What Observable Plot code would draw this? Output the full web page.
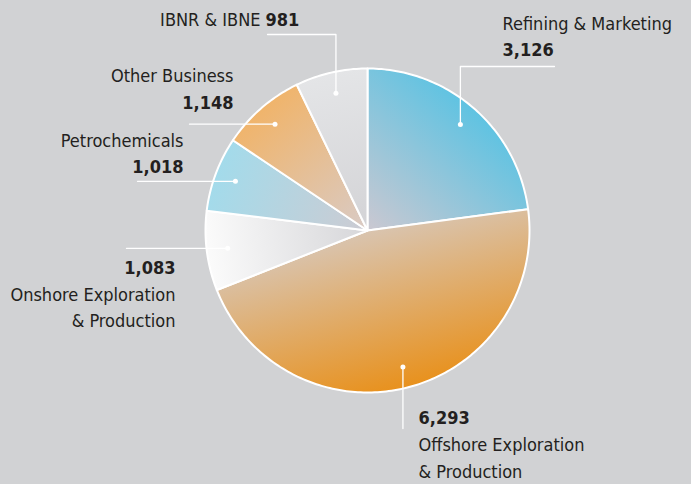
<!DOCTYPE html>
<html><head><meta charset="utf-8">
<script src="https://cdn.jsdelivr.net/npm/d3@7"></script>
<script src="https://cdn.jsdelivr.net/npm/@observablehq/plot@0.6"></script>
<style>
html,body{margin:0;padding:0;background:#d1d2d4;}
#chart{width:691px;height:484px;overflow:hidden;}
#chart svg{background:transparent;}
</style></head><body><div id="chart"></div>
<script>
// ---- data ----
const categories = ["Refining & Marketing", "Offshore Exploration & Production", "Onshore Exploration & Production", "Petrochemicals", "Other Business", "IBNR & IBNE"];
const values = [3126, 6293, 1083, 1018, 1148, 981];
const outerColors = ["#5fc3e2", "#e8911d", "#fbfbfb", "#a3dbeb", "#f0b46b", "#e4e5e7"];
const innerColors = ["#cbc8d1", "#d9c4af", "#d6d6d9", "#cdcbd2", "#d9cbc6", "#d3d3d6"];
// label text lines (name parts); "#" marks the bold value line
const labelText = [
  ["Refining & Marketing", "#"],
  ["#", "Offshore Exploration", "& Production"],
  ["#", "Onshore Exploration", "& Production"],
  ["Petrochemicals", "#"],
  ["Other Business", "#"],
  ["IBNR & IBNE #"]
];

// ---- layout ----
const W = 691, H = 484;
const CX = 367, CY = 230, R = 162, DOTR = 0.87;
const FONT = "'DejaVu Sans Condensed', 'DejaVu Sans', sans-serif";
const labelLayout = [
  {x: 502, y: 24, dy: 26, anchor: "start", leader: {kind: "vh", y: 66, x: 554}},
  {x: 418, y: 418, dy: 27, anchor: "start", leader: {kind: "v", y: 428}},
  {x: 175, y: 268, dy: 26.5, anchor: "end", leader: {kind: "h", x: 126}},
  {x: 183, y: 141, dy: 26, anchor: "end", leader: {kind: "h", x: 137}},
  {x: 233, y: 76, dy: 27, anchor: "end", leader: {kind: "h", x: 189}},
  {x: 260, y: 20, dy: 0, anchor: "end", leader: {kind: "vh", y: 34, x: 267}}
];

const fmt = d3.format(",");
const arcs = d3.pie().sort(null)(values);
const pt = (a, r) => ({x: CX + r * Math.sin(a), y: CY - r * Math.cos(a)});

// slice polygons
const slices = arcs.map((a, i) => {
  const pts = [{x: CX, y: CY}];
  const n = Math.max(2, Math.ceil((a.endAngle - a.startAngle) / (Math.PI / 180)) + 1);
  for (let k = 0; k < n; k++) pts.push(pt(a.startAngle + (a.endAngle - a.startAngle) * k / (n - 1), R));
  return pts;
});

// dots at slice mid-angle
const dots = arcs.map((a, i) => ({...pt((a.startAngle + a.endAngle) / 2, R * DOTR), i}));

// leader lines
const leaders = [];
dots.forEach((d, i) => {
  const L = labelLayout[i].leader;
  let pts;
  if (L.kind === "vh") pts = [d, {x: d.x, y: L.y}, {x: L.x, y: L.y}];
  else if (L.kind === "v") pts = [d, {x: d.x, y: L.y}];
  else pts = [d, {x: L.x, y: d.y}];
  pts.forEach(p => leaders.push({x: p.x, y: p.y, k: i}));
});

// text rows
const rows = [];
labelText.forEach((lines, i) => {
  const L = labelLayout[i];
  lines.forEach((s, j) => {
    const y = L.y + j * L.dy;
    if (s === "#") rows.push({x: L.x, y, t: fmt(values[i]), a: L.anchor, b: true});
    else if (s.endsWith(" #")) {
      rows.push({x: L.x, y, t: s.slice(0, -2), a: "end", b: false});
      rows.push({x: L.x + 5, y, t: fmt(values[i]), a: "start", b: true});
    } else rows.push({x: L.x, y, t: s, a: L.anchor, b: false});
  });
});

// gradient defs (use scales)
const defsMark = (index, scales) => {
  const defs = d3.create("svg:defs");
  arcs.forEach((a, i) => {
    const mid = (a.startAngle + a.endAngle) / 2;
    const o = pt(mid, R);
    const g = defs.append("linearGradient").attr("id", "g" + i)
      .attr("gradientUnits", "userSpaceOnUse")
      .attr("x1", scales.x(CX)).attr("y1", scales.y(CY))
      .attr("x2", scales.x(o.x)).attr("y2", scales.y(o.y));
    g.append("stop").attr("offset", 0).attr("stop-color", innerColors[i]);
    g.append("stop").attr("offset", 1).attr("stop-color", outerColors[i]);
  });
  return defs.node();
};

const textMarks = [];
for (const a of ["start", "end"]) for (const b of [false, true]) {
  textMarks.push(Plot.text(rows.filter(r => r.a === a && r.b === b), {
    x: "x", y: "y", text: "t", textAnchor: a, fontSize: 18,
    fontWeight: b ? "bold" : "normal", fill: "#231f20", fontFamily: FONT
  }));
}

const plot = Plot.plot({
  width: W, height: H,
  margin: 0,
  style: {background: "transparent", fontFamily: FONT},
  x: {domain: [0, W], range: [0, W], axis: null},
  y: {domain: [0, H], range: [0, H], axis: null},
  marks: [
    defsMark,
    ...slices.map((pts, i) => Plot.line(pts, {x: "x", y: "y", curve: "linear-closed", fill: `url(#g${i})`, stroke: "white", strokeWidth: 2, strokeLinejoin: "round"})),
    Plot.line(leaders, {x: "x", y: "y", z: "k", stroke: "white", strokeWidth: 1.3}),
    Plot.dot(dots, {x: "x", y: "y", r: 2.5, fill: "white"}),
    ...textMarks
  ]
});
document.getElementById("chart").appendChild(plot);
</script>
</body></html>
